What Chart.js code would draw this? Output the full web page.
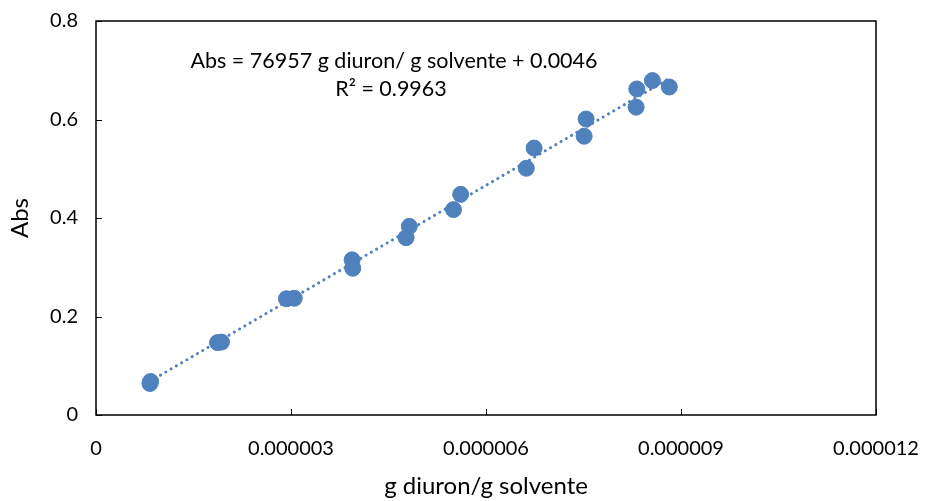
<!DOCTYPE html>
<html>
<head>
<meta charset="utf-8">
<title>Curva de calibración diuron</title>
<script src="https://cdn.jsdelivr.net/npm/chart.js@4.4.1/dist/chart.umd.min.js"></script>
<style>
  html, body { margin: 0; padding: 0; background: #fff; }
  #wrap { width: 927px; height: 501px; position: relative; }
</style>
</head>
<body>
<div id="wrap"><canvas id="calChart" width="927" height="501"></canvas></div>
<script>
// concentración (g diuron / g solvente) y absorbancia medida
const concentracion = [
  0.83e-6, 0.84e-6,
  1.87e-6, 1.93e-6,
  2.93e-6, 3.05e-6,
  3.94e-6, 3.95e-6,
  4.77e-6, 4.82e-6,
  5.50e-6, 5.61e-6,
  6.62e-6, 6.74e-6,
  7.51e-6, 7.54e-6,
  8.31e-6, 8.32e-6,
  8.56e-6, 8.82e-6
];
const absorbancia = [
  0.064, 0.068,
  0.147, 0.148,
  0.236, 0.237,
  0.315, 0.298,
  0.360, 0.383,
  0.417, 0.448,
  0.501, 0.542,
  0.566, 0.601,
  0.625, 0.662,
  0.679, 0.666
];

// ajuste lineal mostrado en el gráfico
const pendiente = 76957;
const intercepto = 0.0046;
const r2 = 0.9963;

const xTicks = [0, 0.000003, 0.000006, 0.000009, 0.000012];
const yTicks = [0, 0.2, 0.4, 0.6, 0.8];

const azul = "#4F81BD";
const fuente = "Lato, 'Open Sans', sans-serif";

const puntos = concentracion.map((x, i) => ({ x: x, y: absorbancia[i] }));
const xMin = Math.min(...concentracion);
const xMax = Math.max(...concentracion);
const tendencia = [xMin, xMax].map(x => ({ x: x, y: pendiente * x + intercepto }));

// marco negro y marcas hacia dentro, estilo Excel
const marcoPlugin = {
  id: "marco",
  afterDraw(chart) {
    const { ctx, chartArea: a, scales } = chart;
    ctx.save();
    ctx.strokeStyle = "#000";
    ctx.lineWidth = 1.5;
    ctx.strokeRect(a.left, a.top, a.right - a.left, a.bottom - a.top);
    ctx.lineWidth = 1;
    ctx.beginPath();
    xTicks.forEach(v => {
      const px = Math.round(scales.x.getPixelForValue(v)) + 0.5;
      ctx.moveTo(px, a.bottom);
      ctx.lineTo(px, a.bottom - 6);
    });
    yTicks.forEach(v => {
      const py = Math.round(scales.y.getPixelForValue(v)) + 0.5;
      ctx.moveTo(a.left, py);
      ctx.lineTo(a.left + 6, py);
    });
    ctx.stroke();
    ctx.restore();
  }
};

// ecuación de la recta y R²
const ecuacionPlugin = {
  id: "ecuacion",
  afterDraw(chart) {
    const { ctx, chartArea: a } = chart;
    ctx.save();
    ctx.fillStyle = "#000";
    ctx.font = "21.5px " + fuente;
    ctx.textAlign = "center";
    ctx.textBaseline = "middle";
    const cx = a.left + 298;
    ctx.fillText("Abs = " + pendiente + " g diuron/ g solvente + " + intercepto, cx, a.top + 40);
    ctx.fillText("R² = " + r2, cx - 3, a.top + 68);
    ctx.restore();
  }
};

new Chart(document.getElementById("calChart"), {
  type: "scatter",
  data: {
    datasets: [
      {
        label: "Abs",
        data: puntos,
        backgroundColor: azul,
        borderColor: azul,
        pointRadius: 8,
        pointHoverRadius: 8,
        order: 0
      },
      {
        label: "Lineal",
        type: "line",
        data: tendencia,
        borderColor: azul,
        borderWidth: 3,
        borderDash: [0.1, 6],
        borderCapStyle: "round",
        pointRadius: 0,
        fill: false,
        order: 1
      }
    ]
  },
  options: {
    responsive: false,
    animation: false,
    layout: { padding: { top: 21, right: 51, left: 0, bottom: 0 } },
    plugins: {
      legend: { display: false },
      tooltip: { enabled: false }
    },
    scales: {
      x: {
        type: "linear",
        min: 0,
        max: 0.000012,
        afterBuildTicks: s => { s.ticks = xTicks.map(v => ({ value: v })); },
        afterFit: s => { s.height = 86; s.paddingLeft = 0; s.paddingRight = 0; },
        grid: { display: false, drawTicks: false },
        border: { display: false },
        ticks: {
          color: "#000",
          font: { family: fuente, size: 20 },
          padding: 22,
          maxRotation: 0,
          callback: v => v === 0 ? "0" : v.toFixed(6)
        },
        title: {
          display: true,
          text: "g diuron/g solvente",
          color: "#000",
          font: { family: fuente, size: 24 },
          padding: { top: 0, bottom: 0 }
        }
      },
      y: {
        min: 0,
        max: 0.8,
        afterBuildTicks: s => { s.ticks = yTicks.map(v => ({ value: v })); },
        afterFit: s => { s.width = 96; s.paddingTop = 0; s.paddingBottom = 0; },
        grid: { display: false, drawTicks: false },
        border: { display: false },
        ticks: {
          color: "#000",
          font: { family: fuente, size: 20 },
          padding: 18,
          callback: v => v === 0 ? "0" : v.toFixed(1)
        },
        title: {
          display: true,
          text: "Abs",
          color: "#000",
          font: { family: fuente, size: 24 },
          padding: { top: 6, bottom: 0 }
        }
      }
    }
  },
  plugins: [marcoPlugin, ecuacionPlugin]
});
</script>
</body>
</html>
